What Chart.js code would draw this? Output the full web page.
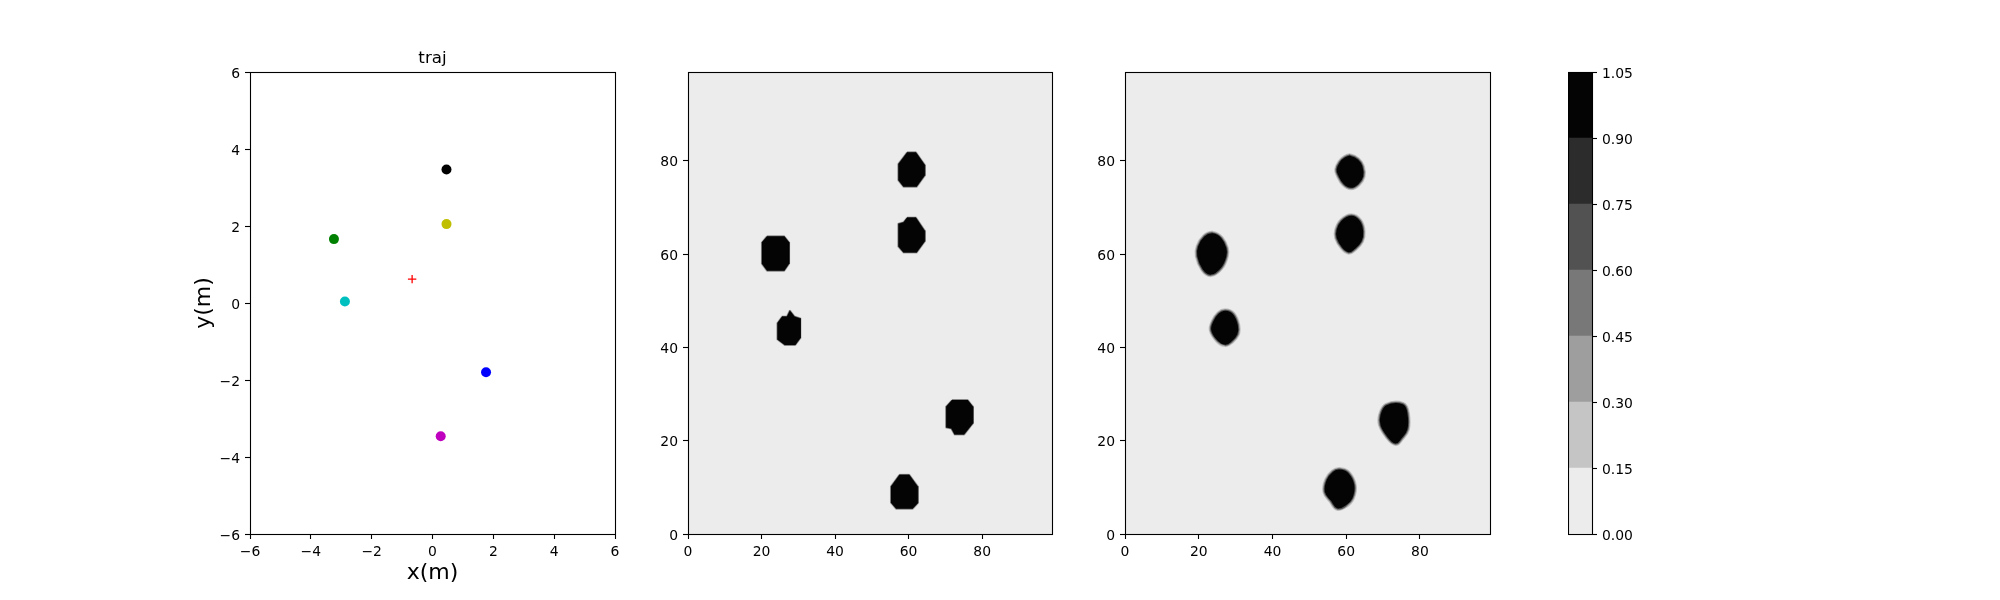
<html>

<head>
  <title>traj</title>
  <script src="https://cdn.jsdelivr.net/npm/chart.js"></script>
  <style>
    body { margin: 0; background: #fff; overflow: hidden; }
    canvas { position: absolute; }
  </style>
</head>

<body>
  <canvas id="trajChart"></canvas>
  <canvas id="mapChart1"></canvas>
  <canvas id="mapChart2"></canvas>
  <canvas id="barChart"></canvas>
  <script>
    // left panel, positions
    const trajX = [0.46, 0.46, -3.24, -2.88, 1.76, 0.27];
    const trajY = [3.47, 2.05, 1.66, 0.04, -1.80, -3.46];
    const trajColors = ['#000000', '#bfbf00', '#008000', '#00bfbf', '#0000ff', '#bf00bf'];
    const targetX = [-0.67];
    const targetY = [0.62];
    const trajTicks = [-6, -4, -2, 0, 2, 4, 6];
    const mapTicks = [0, 20, 40, 60, 80];
    const mapBack = [[0, 0], [99, 0], [99, 99], [0, 99], [0, 0]];

    // blob outlines of the middle panel
    const map1Blobs = [
      [[59.6, 81.8], [62, 81.8], [64.4, 79.1], [64.4, 76.8], [62.2, 74.4], [58.6, 74.4], [57.2, 75.8], [57.2, 79.3]],
      [[59.6, 67.8], [62, 67.8], [64.4, 65], [64.4, 62.7], [62.2, 60.3], [58.6, 60.3], [57.2, 61.6], [57.2, 66.5], [58.6, 66.8]],
      [[21.5, 63.8], [26.2, 63.8], [27.5, 62.5], [27.5, 57.9], [26.2, 56.4], [21.5, 56.4], [20.1, 57.9], [20.1, 62.5]],
      [[27.7, 47.9], [29, 46.6], [30.6, 46.2], [30.6, 42], [29.2, 40.5], [26.3, 40.5], [24.3, 41.7], [24.3, 45.2], [25.6, 46.6], [26.9, 46.6]],
      [[71.8, 28.7], [76.1, 28.7], [77.5, 27.3], [77.5, 23.7], [75.1, 21.3], [72.5, 21.3], [71.6, 22.6], [70.2, 22.8], [70.2, 27.3]],
      [[57.5, 12.7], [60.2, 12.7], [62.5, 10.2], [62.5, 6.6], [61.1, 5.4], [56.6, 5.4], [55.2, 6.7], [55.2, 10.2]]
    ];
    // blob outlines of the right panel
    const map2Blobs = [
      [[61.1, 80.7], [62.9, 80], [64, 78.7], [64.2, 76.7], [63, 75.2], [61.3, 74.5], [59.6, 75.2], [58.2, 77], [57.8, 78.1], [58.6, 79.5], [59.8, 80.4]],
      [[61.4, 67.9], [63.4, 66.9], [64.2, 64.8], [63.8, 62.9], [62, 61.3], [60.7, 60.7], [59.2, 61.6], [57.8, 63.5], [57.8, 65.1], [59, 66.9]],
      [[23.8, 64.1], [25.8, 63.2], [27.1, 61.2], [27.1, 59.6], [25.8, 57.3], [23.3, 55.9], [21.4, 56.9], [20, 59.6], [20.2, 61.5], [21.8, 63.5]],
      [[27.2, 47.5], [29, 46.9], [30.2, 44.7], [30.1, 42.9], [28.5, 41.4], [27.2, 40.9], [25.5, 41.6], [23.8, 43.7], [24.3, 45.4], [25.7, 47]],
      [[71.1, 27.3], [75.2, 27.5], [76.2, 25.8], [76.2, 22.5], [74.6, 20.6], [73.4, 19.7], [71.6, 20.9], [69.7, 23.4], [69.7, 25.4]],
      [[58.2, 13.5], [60.2, 12.9], [61.8, 10.4], [61.3, 7.8], [59.7, 6.4], [57.7, 5.8], [56.2, 7.3], [54.6, 9.1], [55.1, 11.5], [56.7, 13.1]]
    ];

    const levels = [0, 0.15, 0.30, 0.45, 0.60, 0.75, 0.90, 1.05];
    const levelColors = ['#ececec', '#c5c5c5', '#9e9e9e', '#787878', '#525252', '#2c2c2c', '#040404'];

    const FONT = 'DejaVu Sans';
    const areaTop = 72, areaH = 462;
    const marginLeft = 70, marginTop = 40, marginBottom = 60, marginRight = 24;

    // outline around the plot, like the matplotlib spines
    const framePlugin = {
      id: 'frame',
      afterDraw(chart) {
        const a = chart.chartArea, c = chart.ctx;
        c.save();
        c.strokeStyle = '#000';
        c.lineWidth = 1.1;
        c.strokeRect(Math.round(a.left) + 0.5, Math.round(a.top) + 0.5, Math.round(a.width), Math.round(a.height));
        c.restore();
      }
    };

    function placeCanvas(id, left, width, right) {
      let cv = document.getElementById(id);
      cv.style.left = (left - marginLeft) + 'px';
      cv.style.top = (areaTop - marginTop) + 'px';
      cv.width = width + marginLeft + right;
      cv.height = areaH + marginTop + marginBottom;
      return cv;
    }

    function axisConfig(min, max, tickVals, size, fmt) {
      return {
        type: 'linear',
        min: min,
        max: max,
        afterBuildTicks: (s) => { s.ticks = tickVals.map(v => ({ value: v })); },
        afterFit: (s) => {
          if (s.isHorizontal()) s.height = size; else s.width = size;
          s.paddingLeft = s.paddingRight = s.paddingTop = s.paddingBottom = 0;
        },
        grid: { drawOnChartArea: false, color: '#000', tickLength: 5, tickWidth: 1.1 },
        border: { display: true, color: '#000', width: 1 },
        ticks: {
          color: '#000',
          padding: 5,
          maxRotation: 0,
          autoSkip: false,
          font: { family: FONT, size: 13.9 },
          callback: fmt || ((v) => String(v).replace('-', '\u2212'))
        }
      };
    }

    function baseOptions(xAxis, yAxis, padTop, padBottom) {
      if (yAxis) yAxis.ticks.labelOffset = 2;
      return {
        responsive: false,
        animation: false,
        layout: { padding: { top: padTop, right: marginRight, left: 0, bottom: padBottom || 0 } },
        plugins: { legend: { display: false }, tooltip: { enabled: false } },
        scales: { x: xAxis, y: yAxis }
      };
    }

    // left panel
    const xTraj = axisConfig(-6, 6, trajTicks, marginBottom);
    xTraj.title = { display: true, text: 'x(m)', color: '#000', font: { family: FONT, size: 22 }, padding: { top: 0, bottom: 8 } };
    const yTraj = axisConfig(-6, 6, trajTicks, marginLeft);
    yTraj.title = { display: true, text: 'y(m)', color: '#000', font: { family: FONT, size: 22 }, padding: { top: 11, bottom: 0 } };
    const trajOptions = baseOptions(xTraj, yTraj, 0);
    trajOptions.plugins.title = {
      display: true, text: 'traj', color: '#000', fullSize: false,
      font: { family: FONT, size: 16.7, weight: 'normal' },
      padding: { top: 17, bottom: 3 }
    };
    new Chart(placeCanvas('trajChart', 250, 365, marginRight), {
      type: 'scatter',
      data: {
        datasets: [{
          data: trajX.map((x, i) => ({ x: x, y: trajY[i] })),
          backgroundColor: trajColors,
          borderColor: trajColors,
          pointRadius: 5,
          borderWidth: 0
        }, {
          data: targetX.map((x, i) => ({ x: x, y: targetY[i] })),
          pointStyle: 'cross',
          pointRadius: 4.2,
          borderColor: '#ff0000',
          borderWidth: 1.3
        }]
      },
      options: trajOptions,
      plugins: [framePlugin]
    });

    function shape(points, color, width, tension) {
      // smooth outlines overlap at the ends, so the curve has no corner where it closes
      let path = tension > 0
        ? [points[points.length - 1]].concat(points, points.slice(0, 2))
        : points.concat([points[0]]);
      return {
        data: path.map(p => ({ x: p[0], y: p[1] })),
        showLine: true,
        fill: 'shape',
        backgroundColor: color,
        borderColor: color,
        borderWidth: width,
        borderJoinStyle: 'round',
        pointRadius: 0,
        tension: tension
      };
    }

    function drawMap(id, left, width, blobs, rings, tension) {
      let sets = [shape(mapBack, levelColors[0], 0, 0)];
      blobs.forEach(b => rings.forEach(r => sets.push(shape(b, r[0], r[1], tension))));
      // chart.js paints the first dataset last
      sets.reverse();
      new Chart(placeCanvas(id, left, width, marginRight), {
        type: 'scatter',
        data: { datasets: sets },
        options: baseOptions(axisConfig(0, 99, mapTicks, marginBottom), axisConfig(0, 99, mapTicks, marginLeft), marginTop),
        plugins: [framePlugin]
      });
    }

    drawMap('mapChart1', 688, 364, map1Blobs, [['#b0b0b0', 2], ['#040404', 0.5]], 0);
    drawMap('mapChart2', 1125, 365, map2Blobs, [['#c5c5c5', 8], ['#9e9e9e', 6.5], ['#525252', 5], ['#040404', 3]], 0.4);

    // colour bar
    const yBar = axisConfig(levels[0], levels[levels.length - 1], levels, marginLeft, (v) => v.toFixed(2));
    yBar.position = 'right';
    const barOptions = baseOptions({ type: 'category', display: false }, yBar, marginTop, marginBottom);
    barOptions.layout.padding.right = 0;
    new Chart(placeCanvas('barChart', 1568 + marginLeft, 24, 0), {
      type: 'bar',
      data: {
        labels: ['levels'],
        datasets: levelColors.map((c, i) => ({
          data: [[levels[i], levels[i + 1]]],
          backgroundColor: c,
          barPercentage: 1,
          categoryPercentage: 1,
          grouped: false
        }))
      },
      options: barOptions,
      plugins: [framePlugin]
    });
  </script>
</body>

</html>
